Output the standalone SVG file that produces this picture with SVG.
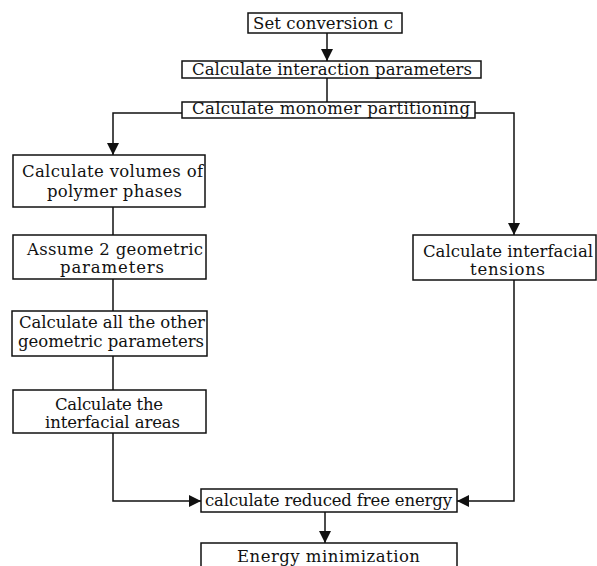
<svg xmlns="http://www.w3.org/2000/svg" width="597" height="566" viewBox="0 0 597 566">
<style>
.box{fill:#fff;stroke:#111;stroke-width:1.5}
.t{font-family:"DejaVu Serif","Liberation Serif",serif;font-size:16.5px;fill:#111}
.c{fill:none;stroke:#111;stroke-width:1.5}
</style>
<defs>
<marker id="ah" markerUnits="userSpaceOnUse" markerWidth="12" markerHeight="12" viewBox="0 0 12 12" refX="12" refY="6" orient="auto">
<path d="M0,0 L12,6 L0,12 Z" fill="#111"/>
</marker>
</defs>
<rect width="597" height="566" fill="#fff"/>
<g id="connectors">
<line class="c" x1="327" y1="33" x2="327" y2="61" marker-end="url(#ah)"/>
<line class="c" x1="327" y1="78" x2="327" y2="102"/>
<polyline class="c" points="182,113 113,113 113,155" marker-end="url(#ah)"/>
<polyline class="c" points="475,113 514,113 514,235" marker-end="url(#ah)"/>
<line class="c" x1="113" y1="207" x2="113" y2="235"/>
<line class="c" x1="113" y1="279" x2="113" y2="311"/>
<line class="c" x1="113" y1="356" x2="113" y2="390"/>
<polyline class="c" points="113,433 113,501 201,501" marker-end="url(#ah)"/>
<polyline class="c" points="514,280 514,501 457,501" marker-end="url(#ah)"/>
<line class="c" x1="325" y1="512" x2="325" y2="543" marker-end="url(#ah)"/>
</g>
<g id="n1">
<rect class="box" x="248" y="13" width="154" height="20"/>
<text class="t" x="253" y="29" textLength="140" lengthAdjust="spacing">Set conversion c</text>
</g>
<g id="n2">
<rect class="box" x="182" y="61" width="299" height="17"/>
<text class="t" x="192" y="75" textLength="280" lengthAdjust="spacing">Calculate interaction parameters</text>
</g>
<g id="n3">
<rect class="box" x="182" y="102" width="293" height="16"/>
<text class="t" x="192" y="114" textLength="278" lengthAdjust="spacing">Calculate monomer partitioning</text>
</g>
<g id="n4">
<rect class="box" x="13" y="155" width="192" height="52"/>
<text class="t" x="22" y="177" textLength="181" lengthAdjust="spacing">Calculate volumes of</text>
<text class="t" x="47" y="197" textLength="135" lengthAdjust="spacing">polymer phases</text>
</g>
<g id="n5">
<rect class="box" x="13" y="235" width="193" height="44"/>
<text class="t" x="27" y="255" textLength="176" lengthAdjust="spacing">Assume 2 geometric</text>
<text class="t" x="60" y="273" textLength="104" lengthAdjust="spacing">parameters</text>
</g>
<g id="n6">
<rect class="box" x="12" y="311" width="195" height="45"/>
<text class="t" x="19" y="328" textLength="186" lengthAdjust="spacing">Calculate all the other</text>
<text class="t" x="18" y="347" textLength="186" lengthAdjust="spacing">geometric parameters</text>
</g>
<g id="n7">
<rect class="box" x="13" y="390" width="193" height="43"/>
<text class="t" x="55" y="410" textLength="108" lengthAdjust="spacing">Calculate the</text>
<text class="t" x="45" y="428" textLength="135" lengthAdjust="spacing">interfacial areas</text>
</g>
<g id="n8">
<rect class="box" x="413" y="235" width="183" height="45"/>
<text class="t" x="423" y="257" textLength="170" lengthAdjust="spacing">Calculate interfacial</text>
<text class="t" x="470" y="275" textLength="75" lengthAdjust="spacing">tensions</text>
</g>
<g id="n9">
<rect class="box" x="201" y="489" width="256" height="23"/>
<text class="t" x="205" y="506" textLength="247" lengthAdjust="spacing">calculate reduced free energy</text>
</g>
<g id="n10">
<rect class="box" x="201" y="543" width="256" height="30"/>
<text class="t" x="237" y="562" textLength="183" lengthAdjust="spacing">Energy minimization</text>
</g>
</svg>
